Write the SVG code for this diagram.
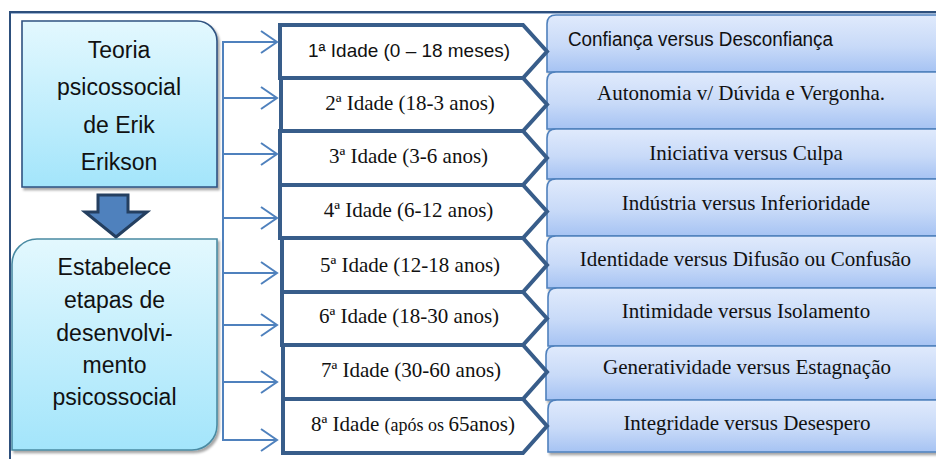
<svg xmlns="http://www.w3.org/2000/svg" width="936" height="459" viewBox="0 0 936 459">
  <style>
    .sans { font-family: "Liberation Sans", Arial, sans-serif; fill: #111; }
    .serif { font-family: "Liberation Serif", "Times New Roman", serif; fill: #111; font-size: 21px; }
    .big { font-size: 23px; text-anchor: middle; }
    .age { fill: #ffffff; stroke: #385d8a; stroke-width: 4; stroke-linejoin: miter; }
    .crisis { fill: url(#gBlue); stroke: #4f81bd; stroke-width: 1.6; }
    .conn { fill: none; stroke: #4f81bd; stroke-width: 2; }
    .mid { text-anchor: middle; }
  </style>
  <defs>
    <linearGradient id="gCyan" x1="0" y1="0" x2="0" y2="1">
      <stop offset="0" stop-color="#e3f8fe"/>
      <stop offset="1" stop-color="#a3e5fb"/>
    </linearGradient>
    <linearGradient id="gBlue" x1="0" y1="0" x2="0" y2="1">
      <stop offset="0" stop-color="#e0eafc"/>
      <stop offset="0.55" stop-color="#c8daf8"/>
      <stop offset="1" stop-color="#a6c3f3"/>
    </linearGradient>
    <filter id="shadow" x="-10%" y="-10%" width="120%" height="130%">
      <feDropShadow dx="2" dy="2.5" stdDeviation="1.2" flood-color="#000" flood-opacity="0.35"/>
    </filter>
  </defs>

  <!-- outer frame -->
  <g id="frame">
    <line x1="10" y1="12" x2="936" y2="12" stroke="#2d4f7c" stroke-width="2"/>
    <line x1="10" y1="13.5" x2="936" y2="13.5" stroke="#9db4d3" stroke-width="1"/>
    <line x1="10" y1="11" x2="10" y2="459" stroke="#2d4f7c" stroke-width="2"/>
  </g>

  <!-- right column: crises -->
  <g id="crisis-1">
    <path class="crisis" filter="url(#shadow)" d="M547,72 V24 Q547,15 556,15 H940 V72 Z"/>
    <text class="sans" x="568" y="46" font-size="20" textLength="265" lengthAdjust="spacingAndGlyphs">Confiança versus Desconfiança</text>
  </g>
  <g id="crisis-2">
    <path class="crisis" filter="url(#shadow)" d="M547,129 V81 Q547,72 556,72 H940 V129 Z"/>
    <text class="serif mid" x="741" y="100">Autonomia v/ Dúvida e Vergonha.</text>
  </g>
  <g id="crisis-3">
    <path class="crisis" filter="url(#shadow)" d="M547,179 V138 Q547,129 556,129 H940 V179 Z"/>
    <text class="serif mid" x="746" y="160">Iniciativa versus Culpa</text>
  </g>
  <g id="crisis-4">
    <path class="crisis" filter="url(#shadow)" d="M547,236 V188 Q547,179 556,179 H940 V236 Z"/>
    <text class="serif mid" x="746" y="210">Indústria versus Inferioridade</text>
  </g>
  <g id="crisis-5">
    <path class="crisis" filter="url(#shadow)" d="M547,288 V245 Q547,236 556,236 H940 V288 Z"/>
    <text class="serif mid" x="745.5" y="266">Identidade versus Difusão ou Confusão</text>
  </g>
  <g id="crisis-6">
    <path class="crisis" filter="url(#shadow)" d="M548,346 V297 Q548,288 557,288 H940 V346 Z"/>
    <text class="serif mid" x="746" y="318">Intimidade versus Isolamento</text>
  </g>
  <g id="crisis-7">
    <path class="crisis" filter="url(#shadow)" d="M546,400 V355 Q546,346 555,346 H940 V400 Z"/>
    <text class="serif mid" x="747" y="374">Generatividade versus Estagnação</text>
  </g>
  <g id="crisis-8">
    <path class="crisis" filter="url(#shadow)" d="M548,452 V409 Q548,400 557,400 H940 V452 Z"/>
    <text class="serif mid" x="747" y="430">Integridade versus Desespero</text>
  </g>

  <!-- middle column: ages (pentagon arrows) -->
  <g id="age-1">
    <path class="age" d="M280,25 H523 L547,51.5 L523,78 H280 Z"/>
    <text class="sans mid" x="409" y="57" font-size="19" textLength="202" lengthAdjust="spacingAndGlyphs">1ª Idade (0 – 18 meses)</text>
  </g>
  <g id="age-2">
    <path class="age" d="M281,78 H523 L547,104.5 L523,131 H281 Z"/>
    <text class="serif mid" x="410" y="110">2ª Idade (18-3 anos)</text>
  </g>
  <g id="age-3">
    <path class="age" d="M280,131 H523 L547,158 L523,185 H280 Z"/>
    <text class="serif mid" x="408.5" y="163">3ª Idade (3-6 anos)</text>
  </g>
  <g id="age-4">
    <path class="age" d="M280,185 H523 L547,211.5 L523,238 H280 Z"/>
    <text class="serif mid" x="408.5" y="217">4ª Idade (6-12 anos)</text>
  </g>
  <g id="age-5">
    <path class="age" d="M282,238 H523 L547,265 L523,292 H282 Z"/>
    <text class="serif mid" x="410" y="272">5ª Idade (12-18 anos)</text>
  </g>
  <g id="age-6">
    <path class="age" d="M282,292 H523 L547,318.5 L523,345 H282 Z"/>
    <text class="serif mid" x="409" y="323">6ª Idade (18-30 anos)</text>
  </g>
  <g id="age-7">
    <path class="age" d="M283,345 H523 L547,372 L523,399 H283 Z"/>
    <text class="serif mid" x="411" y="377">7ª Idade (30-60 anos)</text>
  </g>
  <g id="age-8">
    <path class="age" d="M283,399 H523 L547,426 L523,453 H283 Z"/>
    <text class="serif mid" x="413" y="431">8ª Idade <tspan font-size="18">(após os </tspan>65anos)</text>
  </g>

  <!-- left column -->
  <g id="theory">
    <path filter="url(#shadow)" d="M22,21 H197 A20,20 0 0 1 217,41 V187 H22 Z" fill="url(#gCyan)" stroke="#2f5281" stroke-width="1.6"/>
    <text class="sans big" x="119" y="58">Teoria</text>
    <text class="sans big" x="119" y="95">psicossocial</text>
    <text class="sans big" x="119" y="133">de Erik</text>
    <text class="sans big" x="119" y="170">Erikson</text>
  </g>

  <g id="down-arrow">
    <path d="M98,195 H128 V212 H147 L116,237 L85,212 H98 Z" fill="#4f81bd" stroke="#243f60" stroke-width="3" stroke-linejoin="miter"/>
  </g>

  <g id="stages">
    <path filter="url(#shadow)" d="M37,239 H217 V425 A25,25 0 0 1 192,450 H12 V264 A25,25 0 0 1 37,239 Z" fill="url(#gCyan)" stroke="#4a8ba3" stroke-width="1.6"/>
    <text class="sans big" x="114.5" y="275">Estabelece</text>
    <text class="sans big" x="114.5" y="308">etapas de</text>
    <text class="sans big" x="114.5" y="341">desenvolvi-</text>
    <text class="sans big" x="114.5" y="373">mento</text>
    <text class="sans big" x="114.5" y="405">psicossocial</text>
  </g>

  <!-- connectors from the left column to each age -->
  <g id="connectors" class="conn">
    <line x1="223" y1="41" x2="223" y2="441"/>
    <line x1="222" y1="42" x2="277" y2="42"/>
    <polyline points="261,31 277,42 261,53"/>
    <line x1="222" y1="98" x2="277" y2="98"/>
    <polyline points="261,87 277,98 261,109"/>
    <line x1="222" y1="154" x2="277" y2="154"/>
    <polyline points="261,143 277,154 261,165"/>
    <line x1="222" y1="218" x2="277" y2="218"/>
    <polyline points="261,207 277,218 261,229"/>
    <line x1="222" y1="273" x2="277" y2="273"/>
    <polyline points="261,262 277,273 261,284"/>
    <line x1="222" y1="325" x2="277" y2="325"/>
    <polyline points="261,314 277,325 261,336"/>
    <line x1="222" y1="382" x2="277" y2="382"/>
    <polyline points="261,371 277,382 261,393"/>
    <line x1="222" y1="440" x2="277" y2="440"/>
    <polyline points="261,429 277,440 261,451"/>
  </g>
</svg>
